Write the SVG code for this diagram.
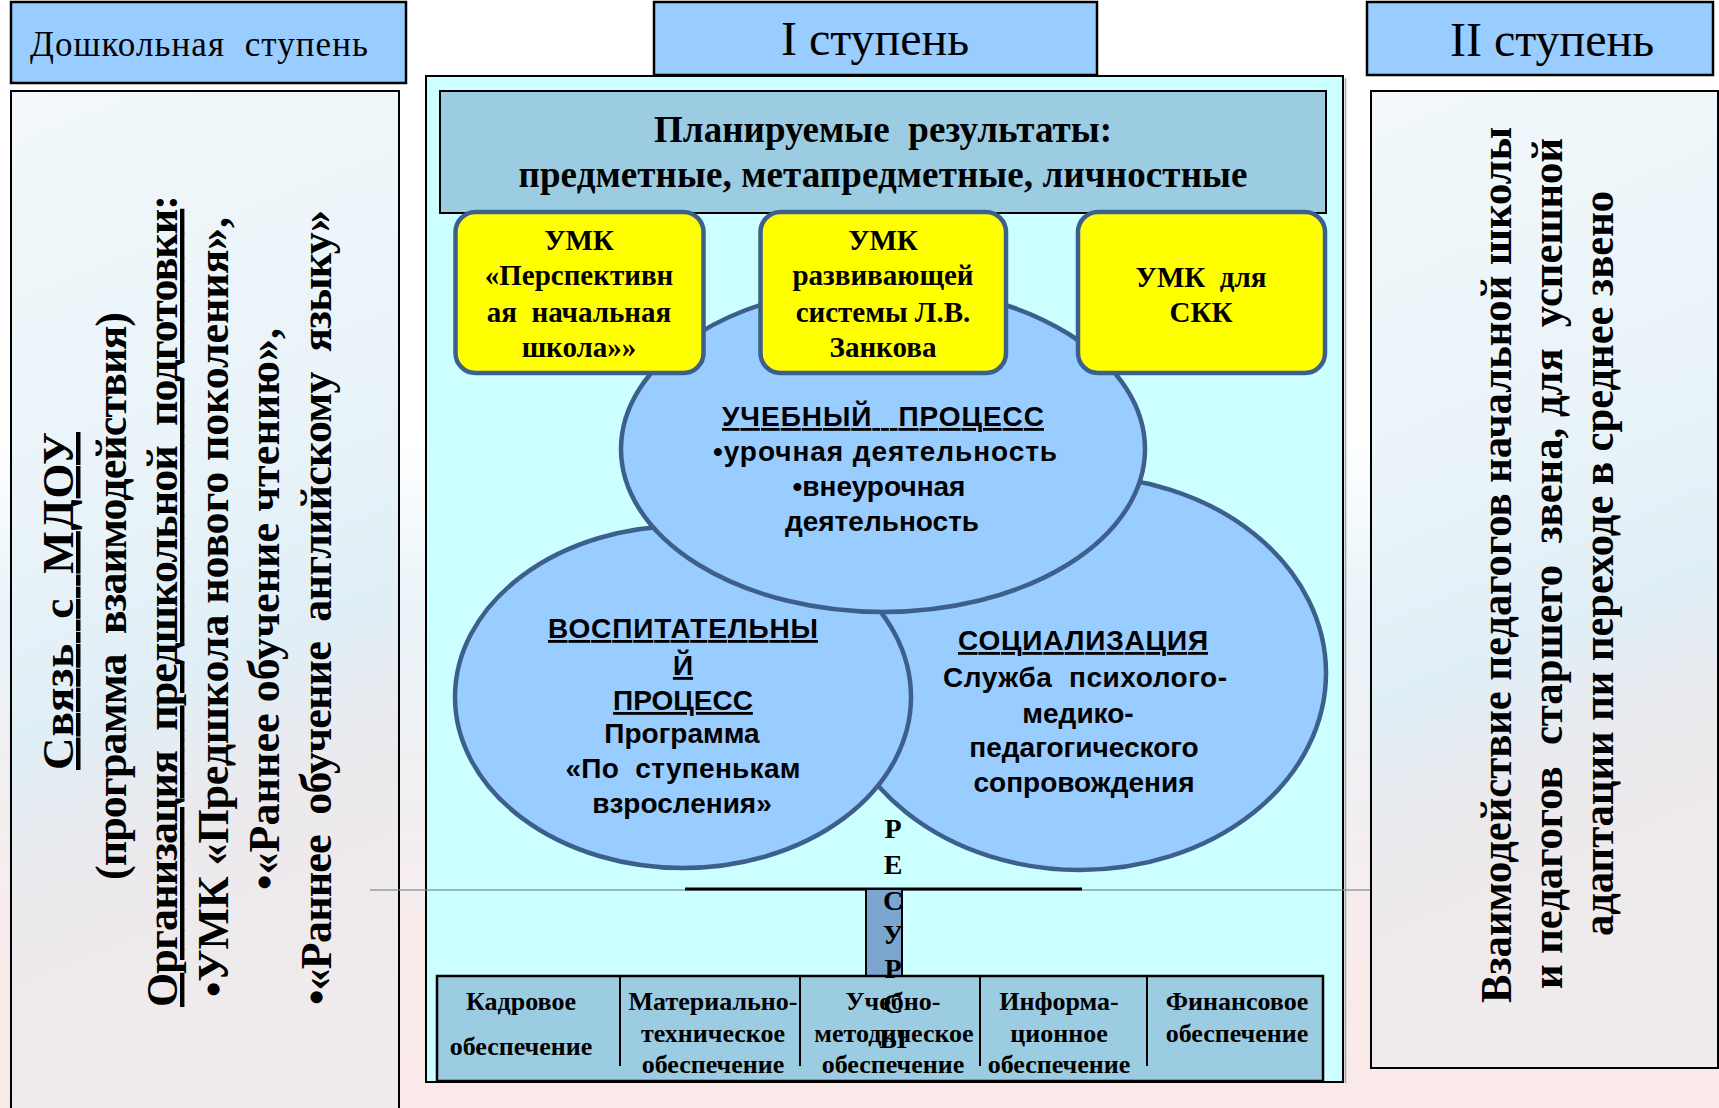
<svg xmlns="http://www.w3.org/2000/svg" width="1719" height="1108" viewBox="0 0 1719 1108">
<defs>
<linearGradient id="bg" x1="0" y1="0" x2="0" y2="1">
<stop offset="0" stop-color="#FFFFFF"/>
<stop offset="0.40" stop-color="#FFFFFF"/>
<stop offset="0.55" stop-color="#E9F3F8"/>
<stop offset="0.74" stop-color="#F2EEF0"/>
<stop offset="0.86" stop-color="#F9EBEB"/>
<stop offset="1" stop-color="#FAE9E9"/>
</linearGradient>
<linearGradient id="side" x1="0" y1="0" x2="0.15" y2="1">
<stop offset="0" stop-color="#F2F8FB"/>
<stop offset="0.45" stop-color="#E8F3F8"/>
<stop offset="0.62" stop-color="#E0EEF6"/>
<stop offset="0.78" stop-color="#ECE9EC"/>
<stop offset="1" stop-color="#F0EBED"/>
</linearGradient>
<style>
.hdr{fill:#99CCFF;stroke:#000;stroke-width:2.5}
.ser{font-family:"Liberation Serif","Times New Roman",serif;fill:#000}
.b{font-weight:bold}
.sans{font-family:"Liberation Sans",Arial,sans-serif;font-weight:bold;fill:#000}
.umk{fill:#FFFF00;stroke:#3D5F8C;stroke-width:4.5}
.ell{fill:#99CCFF;stroke:#3D5F8C;stroke-width:4.5}
.u{text-decoration:underline}
.mid{text-anchor:middle}
.panel{stroke:#000;stroke-width:2}
.cell{fill:none;stroke:#000;stroke-width:2}
</style>
</defs>

<rect x="0" y="0" width="1719" height="1108" fill="url(#bg)"/>

<g id="preschool-header">
<rect class="hdr" x="11" y="2" width="395" height="81"/>
<text class="ser" x="30" y="56" font-size="35" textLength="338" lengthAdjust="spacing" xml:space="preserve">Дошкольная  ступень</text>
</g>

<g id="preschool-panel">
<rect class="panel" x="11" y="91" width="388" height="1030" fill="url(#side)"/>
<text class="ser b u" font-size="45" transform="translate(73,770) rotate(-90)" textLength="338" lengthAdjust="spacing" xml:space="preserve">Связь  с  МДОУ</text>
<text class="ser b" font-size="44" transform="translate(126,880) rotate(-90)" textLength="568" lengthAdjust="spacing" xml:space="preserve">(программа  взаимодействия)</text>
<text class="ser b" font-size="44" transform="translate(177,1007) rotate(-90)" textLength="812" lengthAdjust="spacing" xml:space="preserve"><tspan class="u">Организация  предшкольной  подготовки</tspan>:</text>
<text class="ser b" font-size="44" transform="translate(228,997) rotate(-90)" textLength="780" lengthAdjust="spacing">•УМК «Предшкола нового поколения»,</text>
<text class="ser b" font-size="44" transform="translate(279,890) rotate(-90)" textLength="562" lengthAdjust="spacing">•«Раннее обучение чтению»,</text>
<text class="ser b" font-size="44" transform="translate(331,1005) rotate(-90)" textLength="795" lengthAdjust="spacing" xml:space="preserve">•«Раннее  обучение  английскому  языку»</text>
</g>

<g id="stage1-header">
<rect class="hdr" x="654" y="2" width="443" height="73"/>
<text class="ser mid" x="875" y="55" font-size="48">I ступень</text>
</g>

<g id="stage1-panel">
<rect class="panel" x="426" y="76" width="917" height="1006" fill="#CCFFFF"/>
<line x1="1345.5" y1="78" x2="1345.5" y2="1083" stroke="#9AA" stroke-width="1.5"/>
</g>

<g id="planned-results">
<rect x="440" y="91" width="886" height="122" fill="#9BCCE1" stroke="#000" stroke-width="2"/>
<text class="ser b mid" x="883" y="142" font-size="37" textLength="458" lengthAdjust="spacing" xml:space="preserve">Планируемые  результаты:</text>
<text class="ser b mid" x="883" y="187" font-size="37" textLength="729" lengthAdjust="spacing">предметные, метапредметные, личностные</text>
</g>

<g id="socialization">
<ellipse class="ell" cx="1080" cy="673" rx="246" ry="197"/>
<text class="sans mid u" x="1083" y="650" font-size="28" textLength="250" lengthAdjust="spacing">СОЦИАЛИЗАЦИЯ</text>
<text class="sans mid" x="1085" y="687" font-size="28" textLength="284" lengthAdjust="spacing" xml:space="preserve">Служба  психолого-</text>
<text class="sans mid" x="1078" y="723" font-size="28">медико-</text>
<text class="sans mid" x="1084" y="757" font-size="28">педагогического</text>
<text class="sans mid" x="1084" y="792" font-size="28">сопровождения</text>
</g>

<g id="upbringing">
<ellipse class="ell" cx="683" cy="697" rx="228" ry="171"/>
<text class="sans mid u" x="683" y="638" font-size="28" textLength="270" lengthAdjust="spacing">ВОСПИТАТЕЛЬНЫ</text>
<text class="sans mid u" x="683" y="675" font-size="28">Й</text>
<text class="sans mid u" x="683" y="710" font-size="28">ПРОЦЕСС</text>
<text class="sans mid" x="682" y="743" font-size="28">Программа</text>
<text class="sans mid" x="683" y="778" font-size="28" textLength="235" lengthAdjust="spacing" xml:space="preserve">«По  ступенькам</text>
<text class="sans mid" x="682" y="813" font-size="28">взросления»</text>
</g>

<g id="learning">
<ellipse class="ell" cx="883" cy="449" rx="262" ry="163"/>
<text class="sans mid u" x="883" y="426" font-size="28" textLength="322" lengthAdjust="spacing" xml:space="preserve">УЧЕБНЫЙ   ПРОЦЕСС</text>
<text class="sans mid" x="885" y="461" font-size="28" textLength="344" lengthAdjust="spacing">•урочная деятельность</text>
<text class="sans mid" x="879" y="496" font-size="28">•внеурочная</text>
<text class="sans mid" x="882" y="531" font-size="28">деятельность</text>
</g>

<g id="umk-perspective">
<rect class="umk" x="455.5" y="212" width="248" height="161" rx="20"/>
<text class="ser b mid" x="579" y="250" font-size="29">УМК</text>
<text class="ser b mid" x="579" y="285" font-size="29">«Перспективн</text>
<text class="ser b mid" x="579" y="322" font-size="29" xml:space="preserve">ая  начальная</text>
<text class="ser b mid" x="579" y="357" font-size="29">школа»»</text>
</g>

<g id="umk-zankov">
<rect class="umk" x="760.5" y="212" width="245.5" height="161" rx="20"/>
<text class="ser b mid" x="883" y="250" font-size="29">УМК</text>
<text class="ser b mid" x="883" y="285" font-size="29">развивающей</text>
<text class="ser b mid" x="883" y="322" font-size="29">системы Л.В.</text>
<text class="ser b mid" x="883" y="357" font-size="29">Занкова</text>
</g>

<g id="umk-skk">
<rect class="umk" x="1078" y="212" width="247" height="161" rx="20"/>
<text class="ser b mid" x="1201" y="287" font-size="29" xml:space="preserve">УМК  для</text>
<text class="ser b mid" x="1201" y="322" font-size="29">СКК</text>
</g>

<g id="connectors">
<line x1="370" y1="890" x2="1400" y2="890" stroke="#7E8C8C" stroke-width="1.5" stroke-opacity="0.8"/>
<line x1="685" y1="889" x2="1082" y2="889" stroke="#000" stroke-width="3"/>
</g>

<g id="resources-bar">
<rect x="866" y="889" width="36" height="89" fill="#7BA6CF" stroke="#000" stroke-width="2"/>
</g>

<g id="resources-table">
<rect x="437" y="976" width="886" height="105" fill="#9BCCE1" stroke="#000" stroke-width="2.5"/>
<line class="cell" x1="620" y1="976" x2="620" y2="1066"/>
<line class="cell" x1="800" y1="976" x2="800" y2="1066"/>
<line class="cell" x1="980" y1="976" x2="980" y2="1066"/>
<line class="cell" x1="1147" y1="976" x2="1147" y2="1066"/>
<text class="ser b mid" x="521" y="1010" font-size="26">Кадровое</text>
<text class="ser b mid" x="521" y="1055" font-size="26">обеспечение</text>
<text class="ser b mid" x="713" y="1010" font-size="26">Материально-</text>
<text class="ser b mid" x="713" y="1042" font-size="26">техническое</text>
<text class="ser b mid" x="713" y="1073" font-size="26">обеспечение</text>
<text class="ser b mid" x="893" y="1010" font-size="26">Учебно-</text>
<text class="ser b mid" x="894" y="1042" font-size="26">методическое</text>
<text class="ser b mid" x="893" y="1073" font-size="26">обеспечение</text>
<text class="ser b mid" x="1059" y="1010" font-size="26">Информа-</text>
<text class="ser b mid" x="1059" y="1042" font-size="26">ционное</text>
<text class="ser b mid" x="1059" y="1073" font-size="26">обеспечение</text>
<text class="ser b mid" x="1237" y="1010" font-size="26">Финансовое</text>
<text class="ser b mid" x="1237" y="1042" font-size="26">обеспечение</text>
</g>

<g id="resources-label">
<text class="ser b mid" x="893" y="838" font-size="28">Р</text>
<text class="ser b mid" x="893" y="874" font-size="28">Е</text>
<text class="ser b mid" x="893" y="910" font-size="28">С</text>
<text class="ser b mid" x="893" y="944" font-size="28">У</text>
<text class="ser b mid" x="893" y="978" font-size="28">Р</text>
<text class="ser b mid" x="893" y="1013" font-size="28">С</text>
<text class="ser b mid" x="893" y="1048" font-size="28">Ы</text>
</g>

<g id="stage2-header">
<rect class="hdr" x="1367" y="2" width="346" height="73"/>
<text class="ser mid" x="1552" y="56" font-size="48">II ступень</text>
</g>

<g id="stage2-panel">
<rect class="panel" x="1371" y="91" width="347" height="977" fill="url(#side)"/>
<text class="ser b" font-size="44" transform="translate(1511,1003) rotate(-90)" textLength="876" lengthAdjust="spacingAndGlyphs">Взаимодействие педагогов начальной школы</text>
<text class="ser b" font-size="44" transform="translate(1562,989) rotate(-90)" textLength="851" lengthAdjust="spacingAndGlyphs" xml:space="preserve">и педагогов  старшего  звена, для  успешной</text>
<text class="ser b" font-size="44" transform="translate(1613,936) rotate(-90)" textLength="745" lengthAdjust="spacingAndGlyphs">адаптации пи переходе в среднее звено</text>
</g>
</svg>
